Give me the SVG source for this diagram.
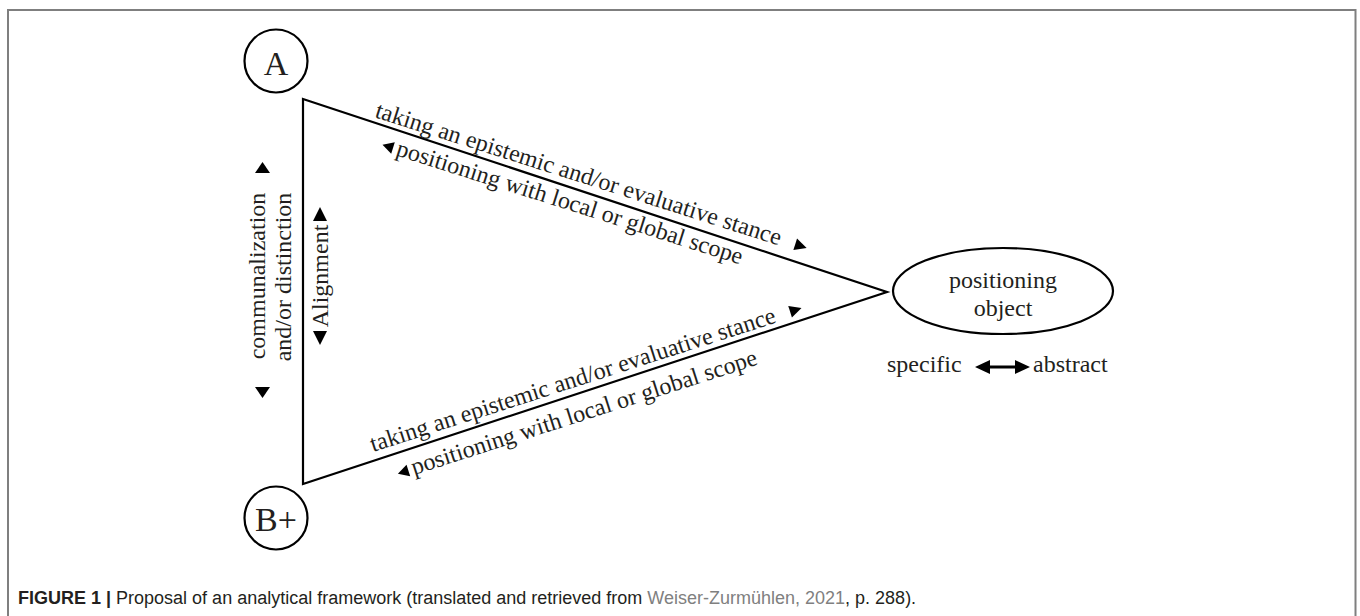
<svg xmlns="http://www.w3.org/2000/svg" width="1360" height="616" viewBox="0 0 1360 616">
<style>
.ser{font-family:"Liberation Serif","Times New Roman",serif;font-size:24px;fill:#231f20}
.big{font-size:34px}
.ln{fill:none;stroke:#000;stroke-width:2.2}
.tri{fill:#000}
.cap{font-family:"Liberation Sans",Arial,sans-serif;font-size:18px;fill:#231f20}
</style>
<rect x="0" y="0" width="1360" height="616" fill="#fff"/>
<rect x="8" y="10" width="1347.5" height="640" fill="none" stroke="#7f7f7f" stroke-width="2"/>
<g id="connectors">
<path class="ln" d="M303,99 L887,292 L303,484 Z" stroke-linejoin="miter"/>
<g id="edge-a-top" transform="translate(374,117) rotate(17.6)">
<text class="ser" x="0" y="0">taking an epistemic and/or evaluative stance</text>
<polygon class="tri" points="440,-12 440,0 452,-6"/>
</g>
<g id="edge-a-bottom" transform="translate(395,155) rotate(17.6)">
<polygon class="tri" points="-15,-6 -4,-12 -4,0"/>
<text class="ser" x="0" y="0">positioning with local or global scope</text>
</g>
<g id="edge-b-top" transform="translate(373,452) rotate(-17.8)">
<text class="ser" x="0" y="0">taking an epistemic and/or evaluative stance</text>
<polygon class="tri" points="440,-12 440,0 452,-6"/>
</g>
<g id="edge-b-bottom" transform="translate(414,475) rotate(-17.8)">
<polygon class="tri" points="-15,-6 -4,-12 -4,0"/>
<text class="ser" x="0" y="0">positioning with local or global scope</text>
</g>
<g id="edge-ab">
<text class="ser" transform="translate(265,276) rotate(-90)" text-anchor="middle">communalization</text>
<text class="ser" transform="translate(291,277) rotate(-90)" text-anchor="middle">and/or distinction</text>
<polygon class="tri" points="255,173 270,173 262.5,162"/>
<polygon class="tri" points="255,387 270,387 262.5,398"/>
<text class="ser" transform="translate(328,276) rotate(-90)" text-anchor="middle">Alignment</text>
<polygon class="tri" points="313,331 327,331 320,345"/>
<polygon class="tri" points="313,221 327,221 320,207"/>
</g>
</g>
<g id="node-a">
<circle class="ln" cx="276" cy="61" r="31.5"/>
<text class="ser big" x="276" y="75" text-anchor="middle">A</text>
</g>
<g id="node-b">
<circle class="ln" cx="276" cy="518" r="31.5"/>
<text class="ser big" x="276" y="531" text-anchor="middle">B+</text>
</g>
<g id="node-object">
<ellipse class="ln" cx="1003" cy="291" rx="110" ry="43"/>
<text class="ser" x="1003" y="288" text-anchor="middle">positioning</text>
<text class="ser" x="1003" y="316" text-anchor="middle">object</text>
</g>
<g id="scale">
<text class="ser" x="887" y="372">specific</text>
<line x1="985" y1="367" x2="1020" y2="367" stroke="#000" stroke-width="3"/>
<polygon class="tri" points="975,367 990,360 990,374"/>
<polygon class="tri" points="1030,367 1015,360 1015,374"/>
<text class="ser" x="1033" y="372">abstract</text>
</g>
<g id="caption">
<text class="cap" x="18" y="604"><tspan font-weight="bold">FIGURE 1 |</tspan> Proposal of an analytical framework (translated and retrieved from <tspan fill="#808080">Weiser-Zurmühlen, 2021</tspan>, p. 288).</text>
</g>
</svg>
